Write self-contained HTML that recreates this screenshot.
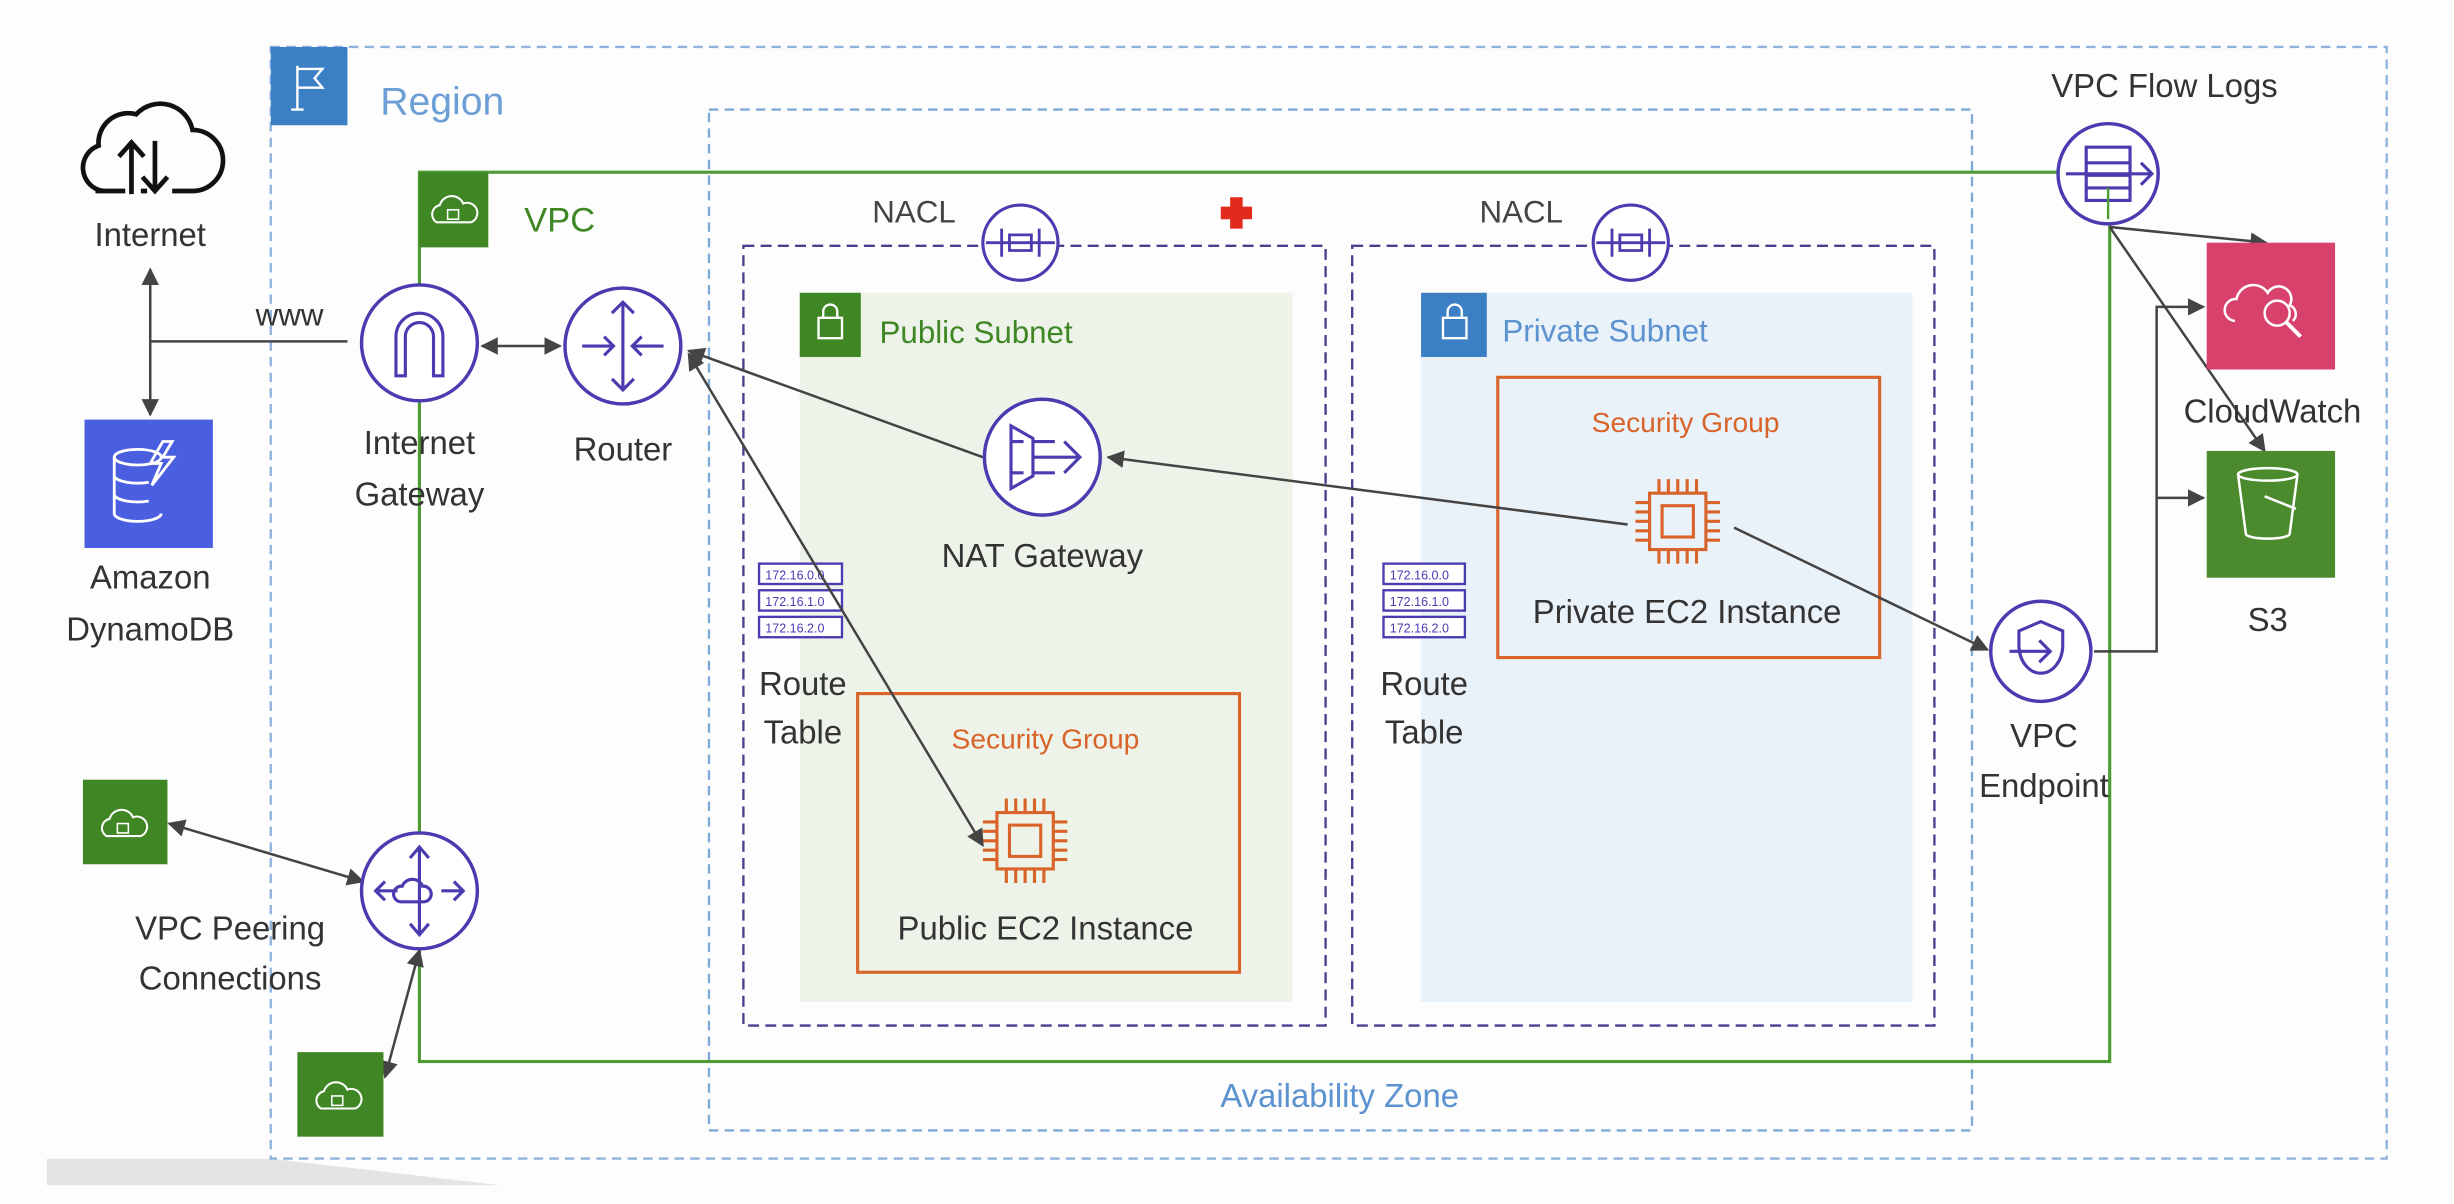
<!DOCTYPE html>
<html><head><meta charset="utf-8"><style>html,body{margin:0;padding:0;background:#fff}svg{display:block}text{font-family:"Liberation Sans",sans-serif}</style></head><body>
<svg width="2454" height="1204" viewBox="0 0 1568 769" preserveAspectRatio="none" xmlns="http://www.w3.org/2000/svg">
<defs>
<marker id="a" viewBox="0 0 10 10" refX="9" refY="5" markerWidth="7" markerHeight="7" orient="auto-start-reverse"><path d="M0,0 L10,5 L0,10 z" fill="#444"/></marker>
</defs>
<rect width="1568" height="769" fill="#fdfdfd"/>
<polygon points="30,740 173,740 320,757 30,757" fill="#e4e4e4"/>
<!-- Region -->
<rect x="173" y="30" width="1352" height="710" fill="none" stroke="#8fb3dc" stroke-width="1.5" stroke-dasharray="6,4"/>
<rect x="173" y="30" width="49" height="50" fill="#3b7fc4"/>
<path d="M190,42 V70 M186,70 H194 M190,44 H206 L201,50 L206,56 H190" stroke="#fff" stroke-width="1.5" fill="none"/>
<text x="243" y="73" font-size="25" fill="#6c9fd6">Region</text>
<!-- AZ -->
<rect x="453" y="70" width="807" height="652" fill="none" stroke="#7eaad8" stroke-width="1.5" stroke-dasharray="6,4"/>
<text x="856" y="707" font-size="21" fill="#5b92cf" text-anchor="middle">Availability Zone</text>
<!-- VPC -->
<rect x="268" y="110" width="1080" height="568" fill="none" stroke="#4e9a33" stroke-width="2"/>
<rect x="268" y="110" width="44" height="48" fill="#3f8624"/>
<path d="M279,142 a6,6 0 0 1 2,-11 a8,8 0 0 1 15,-1 a6,6 0 0 1 5,12 z" stroke="#fff" fill="none" stroke-width="1.3"/><rect x="286" y="134" width="7" height="6" fill="none" stroke="#fff"/>
<text x="335" y="148" font-size="22" fill="#3f8624">VPC</text>
<!-- subnets -->
<rect x="511" y="187" width="315" height="453" fill="#eef3ea"/>
<rect x="908" y="187" width="314" height="453" fill="#e9f1f9"/>
<rect x="475" y="157" width="372" height="498" fill="none" stroke="#4a3f8f" stroke-width="1.5" stroke-dasharray="7,4"/>
<rect x="864" y="157" width="372" height="498" fill="none" stroke="#4a3f8f" stroke-width="1.5" stroke-dasharray="7,4"/>
<rect x="511" y="187" width="39" height="41" fill="#3f8624"/><rect x="523" y="203" width="15" height="13" fill="none" stroke="#fff" stroke-width="1.5"/><path d="M526,203 v-4 a4,4 0 0 1 9,0 v4" stroke="#fff" fill="none" stroke-width="1.5"/>
<text x="562" y="219" font-size="20" fill="#3f8624">Public Subnet</text>
<rect x="908" y="187" width="42" height="41" fill="#3b7fc4"/><rect x="922" y="203" width="15" height="13" fill="none" stroke="#fff" stroke-width="1.5"/><path d="M925,203 v-4 a4,4 0 0 1 9,0 v4" stroke="#fff" fill="none" stroke-width="1.5"/>
<text x="960" y="218" font-size="20" fill="#5b92cf">Private Subnet</text>
<!-- NACL -->
<g stroke="#4b3bb0" stroke-width="2" fill="#fff">
<circle cx="652" cy="155" r="24"/><circle cx="1042" cy="155" r="24"/></g>
<g stroke="#4b3bb0" stroke-width="1.8" fill="none">
<path d="M630,155 H674 M640,146 v18 M664,146 v18 M645,150 h14 v10 h-14z"/>
<path d="M1020,155 H1064 M1030,146 v18 M1054,146 v18 M1035,150 h14 v10 h-14z"/></g>
<text x="584" y="142" font-size="20" fill="#444" text-anchor="middle">NACL</text>
<text x="972" y="142" font-size="20" fill="#444" text-anchor="middle">NACL</text>
<path d="M786,126 h8 v6 h6 v8 h-6 v6 h-8 v-6 h-6 v-8 h6z" fill="#e32b1d"/>
<!-- security groups -->
<rect x="548" y="443" width="244" height="178" fill="none" stroke="#d9642a" stroke-width="2"/>
<text x="668" y="478" font-size="18" fill="#d9642a" text-anchor="middle">Security Group</text>
<rect x="957" y="241" width="244" height="179" fill="none" stroke="#d9642a" stroke-width="2"/>
<text x="1077" y="276" font-size="18" fill="#d9642a" text-anchor="middle">Security Group</text>
<!-- EC2 chips -->
<g stroke="#d9642a" stroke-width="2" fill="none">
<rect x="637" y="519" width="36" height="36"/><rect x="645" y="527" width="20" height="20"/>
<path d="M643,510v9M649,510v9M655,510v9M661,510v9M667,510v9M643,555v9M649,555v9M655,555v9M661,555v9M667,555v9M628,525h9M628,531h9M628,537h9M628,543h9M628,549h9M673,525h9M673,531h9M673,537h9M673,543h9M673,549h9"/>
<rect x="1054" y="315" width="36" height="36"/><rect x="1062" y="323" width="20" height="20"/>
<path d="M1060,306v9M1066,306v9M1072,306v9M1078,306v9M1084,306v9M1060,351v9M1066,351v9M1072,351v9M1078,351v9M1084,351v9M1045,321h9M1045,327h9M1045,333h9M1045,339h9M1045,345h9M1090,321h9M1090,327h9M1090,333h9M1090,339h9M1090,345h9"/></g>
<text x="668" y="600" font-size="21" fill="#333" text-anchor="middle">Public EC2 Instance</text>
<text x="1078" y="398" font-size="21" fill="#333" text-anchor="middle">Private EC2 Instance</text>
<!-- route tables -->
<g stroke="#4b3bb0" stroke-width="1.5" fill="#fff" font-size="7">
<rect x="485" y="360" width="53" height="13"/><rect x="485" y="377" width="53" height="13"/><rect x="485" y="394" width="53" height="13"/>
<rect x="884" y="360" width="52" height="13"/><rect x="884" y="377" width="52" height="13"/><rect x="884" y="394" width="52" height="13"/></g>
<g font-size="8" fill="#4b3bb0"><text x="489" y="370">172.16.0.0</text><text x="489" y="387">172.16.1.0</text><text x="489" y="404">172.16.2.0</text>
<text x="888" y="370">172.16.0.0</text><text x="888" y="387">172.16.1.0</text><text x="888" y="404">172.16.2.0</text></g>
<g font-size="21" fill="#333" text-anchor="middle"><text x="513" y="444">Route</text><text x="513" y="475">Table</text><text x="910" y="444">Route</text><text x="910" y="475">Table</text></g>
<!-- arrows -->
<g stroke="#444" stroke-width="1.6" fill="none">
<path d="M96,218 H222"/>
<path d="M96,172 V265" marker-start="url(#a)" marker-end="url(#a)"/>
<path d="M308,221 H358" marker-start="url(#a)" marker-end="url(#a)"/>
<path d="M628,292 L440,224" marker-end="url(#a)"/>
<path d="M628,540 L440,226" marker-start="url(#a)" marker-end="url(#a)"/>
<path d="M1040,335 L708,292" marker-end="url(#a)"/>
<path d="M1108,337 L1270,415" marker-end="url(#a)"/>
<path d="M1338,416 H1378 V196 H1408" marker-end="url(#a)"/>
<path d="M1378,318 H1408" marker-end="url(#a)"/>
<path d="M1348,145 L1448,155" marker-end="url(#a)"/>
<path d="M1348,145 L1447,288" marker-end="url(#a)"/>
<path d="M108,526 L232,563" marker-start="url(#a)" marker-end="url(#a)"/>
<path d="M268,607 L246,688" marker-start="url(#a)" marker-end="url(#a)"/>
</g>
<!-- Internet cloud -->
<path d="M66,122 a15,15 0 0 1 -3,-29 a19,19 0 0 1 24,-20 a21,21 0 0 1 36,10 a15,15 0 0 1 0,39 H110 M80,122 H61" stroke="#111" stroke-width="3" fill="none"/>
<path d="M84,124 V92 M76,100 L84,91 L92,100 M99,90 V121 M91,113 L99,122 L107,113 M90,122 H94" stroke="#111" stroke-width="3" fill="none"/>
<text x="96" y="157" font-size="21" fill="#333" text-anchor="middle">Internet</text>
<text x="185" y="208" font-size="20" fill="#333" text-anchor="middle">www</text>
<!-- DynamoDB -->
<rect x="54" y="268" width="82" height="82" fill="#4a5ee0"/>
<g stroke="#fff" stroke-width="1.8" fill="none"><ellipse cx="88" cy="292" rx="15" ry="5"/><path d="M73,292 v36 a15,5 0 0 0 30,0 M73,304 a15,5 0 0 0 22,4 M73,316 a15,5 0 0 0 22,4"/><path d="M104,282 l-8,14 h7 l-6,14 l14,-18 h-7 l6,-10z"/></g>
<text x="96" y="376" font-size="21" fill="#333" text-anchor="middle">Amazon</text>
<text x="96" y="409" font-size="21" fill="#333" text-anchor="middle">DynamoDB</text>
<!-- IGW & Router -->
<g stroke="#4b3bb0" stroke-width="2.2" fill="#fff">
<circle cx="268" cy="219" r="37"/><circle cx="398" cy="221" r="37"/><circle cx="666" cy="292" r="37"/><circle cx="268" cy="569" r="37"/><circle cx="1347" cy="111" r="32"/><circle cx="1304" cy="416" r="32"/></g>
<g stroke="#4b3bb0" stroke-width="2" fill="none">
<path d="M253,240 V215 a15,15 0 0 1 30,0 V240 h-6 V215 a9,9 0 0 0 -18,0 V240z"/>
<path d="M398,193 V249 M391,200 l7,-7 l7,7 M391,242 l7,7 l7,-7 M372,221 H392 M386,215 l6,6 l-6,6 M424,221 H404 M410,215 l-6,6 l6,6"/>
<path d="M646,272 v40 l14,-8 v-24z M660,292 H690 M680,282 l10,10 l-10,10 M660,282 h14 M660,302 h14 M646,282 h8 M646,302 h8"/>
<path d="M268,541 V597 M262,548 l6,-7 l6,7 M262,590 l6,7 l6,-7 M240,569 h14 M246,563 l-6,6 l6,6 M296,569 h-14 M290,563 l6,6 l-6,6 M256,576 a5,5 0 0 1 1,-10 a7,7 0 0 1 13,0 a5,5 0 0 1 1,10z"/>
<path d="M1333,94 h28 v34 h-28z M1333,104 h28 M1333,112 h28 M1333,120 h28 M1320,111 H1375 M1368,104 l7,7 l-7,7"/>
<path d="M1290,403 l14,-6 l14,6 v10 a14,18 0 0 1 -14,17 a14,18 0 0 1 -14,-17z M1284,416 h26 M1303,409 l7,7 l-7,7"/>
</g>
<g font-size="21" fill="#333" text-anchor="middle">
<text x="268" y="290">Internet</text><text x="268" y="323">Gateway</text>
<text x="398" y="294">Router</text>
<text x="666" y="362">NAT Gateway</text>
<text x="147" y="600">VPC Peering</text><text x="147" y="632">Connections</text>
<text x="1383" y="62">VPC Flow Logs</text>
<text x="1306" y="477">VPC</text><text x="1306" y="509">Endpoint</text>
<text x="1452" y="270">CloudWatch</text>
<text x="1449" y="403">S3</text>
</g>
<!-- peer VPC icons -->
<rect x="53" y="498" width="54" height="54" fill="#3f8624"/>
<path d="M68,534 a6,6 0 0 1 2,-11 a8,8 0 0 1 15,-1 a6,6 0 0 1 5,12 z" stroke="#fff" fill="none" stroke-width="1.3"/><rect x="75" y="526" width="7" height="6" fill="none" stroke="#fff"/>
<rect x="190" y="672" width="55" height="54" fill="#3f8624"/>
<path d="M205,708 a6,6 0 0 1 2,-11 a8,8 0 0 1 15,-1 a6,6 0 0 1 5,12 z" stroke="#fff" fill="none" stroke-width="1.3"/><rect x="212" y="700" width="7" height="6" fill="none" stroke="#fff"/>
<!-- CloudWatch -->
<rect x="1410" y="155" width="82" height="81" fill="#d9416d"/>
<path d="M1428,205 a7,7 0 0 1 1,-14 a11,11 0 0 1 20,-4 a8,8 0 0 1 14,8 a6,6 0 0 1 2,10" stroke="#fff" fill="none" stroke-width="1.6"/>
<circle cx="1455" cy="200" r="8" stroke="#fff" fill="none" stroke-width="1.6"/><path d="M1461,206 l9,9" stroke="#fff" stroke-width="2.5"/>
<!-- S3 -->
<rect x="1410" y="288" width="82" height="81" fill="#4c8a2e"/>
<ellipse cx="1449" cy="303" rx="19" ry="4" stroke="#fff" fill="none" stroke-width="1.6"/>
<path d="M1430,303 l5,38 a14,3 0 0 0 28,0 l5,-38 M1447,317 l20,8" stroke="#fff" fill="none" stroke-width="1.6"/>
<!-- flow log green line overlay -->
<path d="M1347,120 V140" stroke="#4e9a33" stroke-width="1.5"/>
</svg>
</body></html>
